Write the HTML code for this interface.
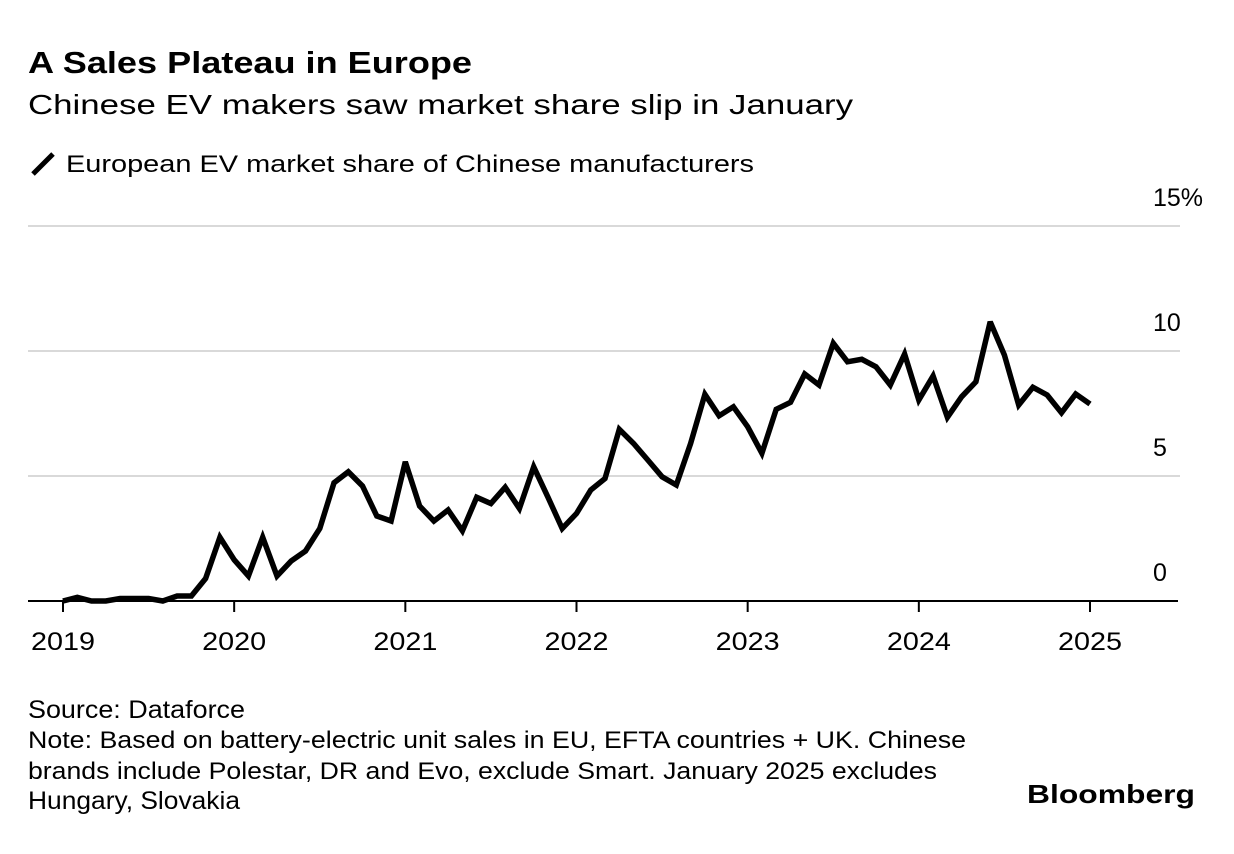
<!DOCTYPE html>
<html><head><meta charset="utf-8"><style>
html,body{margin:0;padding:0;background:#fff;}
svg{display:block;font-family:"Liberation Sans",Arial,sans-serif;}
</style></head><body>
<svg id="chart" width="1234" height="854" viewBox="0 0 1234 854" xmlns="http://www.w3.org/2000/svg">
<text x="28" y="73" font-size="31" font-weight="bold" fill="#000" textLength="444" lengthAdjust="spacingAndGlyphs">A Sales Plateau in Europe</text>
<text x="28" y="114" font-size="28" fill="#000" textLength="825" lengthAdjust="spacingAndGlyphs">Chinese EV makers saw market share slip in January</text>
<line x1="33" y1="174" x2="53" y2="154" stroke="#000" stroke-width="5"/>
<text x="66" y="172" font-size="24" fill="#000" textLength="688" lengthAdjust="spacingAndGlyphs">European EV market share of Chinese manufacturers</text>
<g id="grid"></g>
<g id="xaxis"></g>
<path id="series" fill="none" stroke="#000" stroke-width="5.5" stroke-linejoin="miter" stroke-miterlimit="3"/>
<text x="28" y="718" font-size="25" fill="#000" textLength="217" lengthAdjust="spacingAndGlyphs">Source: Dataforce</text>
<text x="28" y="748" font-size="24" fill="#000" textLength="938" lengthAdjust="spacingAndGlyphs">Note: Based on battery-electric unit sales in EU, EFTA countries + UK. Chinese</text>
<text x="28" y="779" font-size="24" fill="#000" textLength="909" lengthAdjust="spacingAndGlyphs">brands include Polestar, DR and Evo, exclude Smart. January 2025 excludes</text>
<text x="28" y="809" font-size="25" fill="#000" textLength="212" lengthAdjust="spacingAndGlyphs">Hungary, Slovakia</text>
<text x="1195" y="803" font-size="26" font-weight="bold" fill="#000" text-anchor="end" textLength="168" lengthAdjust="spacingAndGlyphs">Bloomberg</text>
</svg>
<script>
const values = [0,0.15,0,0,0.1,0.1,0.1,0,0.2,0.2,0.9,2.55,
1.65,1.0,2.55,1.0,1.6,2.0,2.9,4.73,5.17,4.6,3.4,3.2,
5.57,3.8,3.2,3.64,2.81,4.15,3.9,4.55,3.7,5.37,4.15,2.9,
3.5,4.44,4.9,6.87,6.3,5.64,4.97,4.64,6.3,8.27,7.41,7.77,
6.97,5.91,7.67,7.95,9.08,8.64,10.31,9.57,9.67,9.37,8.64,9.88,
8.04,9.0,7.35,8.17,8.77,11.17,9.84,7.84,8.55,8.24,7.53,8.28,
7.88];
const yTicks = [0,5,10,15];
const yTickLabels = ["0","5","10","15%"];
const yearLabels = ["2019","2020","2021","2022","2023","2024","2025"];
const NS="http://www.w3.org/2000/svg";
const x = i => 63 + i*(1090-63)/72;
const y = v => 601 - v*25;
const grid=document.getElementById('grid'), xa=document.getElementById('xaxis');
function mk(tag,attrs,parent){const e=document.createElementNS(NS,tag);for(const k in attrs)e.setAttribute(k,attrs[k]);parent.appendChild(e);return e;}
yTicks.forEach((t,i)=>{
  if(t>0){const l=mk('line',{x1:28,x2:1180,y1:y(t),y2:y(t),stroke:'#d9d9d9','stroke-width':2},grid);
  
  }
  const tx=mk('text',{x:1153,y:y(t)-20,'font-size':25,fill:'#000'},grid);
  
  
  tx.textContent=yTickLabels[i];
});
const base=mk('line',{x1:28,x2:1178,y1:601,y2:601,stroke:'#000','stroke-width':2},xa);


yearLabels.forEach((lab,i)=>{
  const xx=x(i*12);
  const tk=mk('line',{x1:xx,x2:xx,y1:601,y2:612,stroke:'#000','stroke-width':2},xa);
  
  
  const tx=mk('text',{x:xx,y:650,'font-size':25,fill:'#000','text-anchor':'middle',textLength:64,lengthAdjust:'spacingAndGlyphs'},xa);
  
  
  tx.textContent=lab;
});
document.getElementById('series').setAttribute('d',values.map((v,i)=>(i?'L':'M')+x(i).toFixed(1)+','+y(v).toFixed(1)).join(''));
</script>
</body></html>
